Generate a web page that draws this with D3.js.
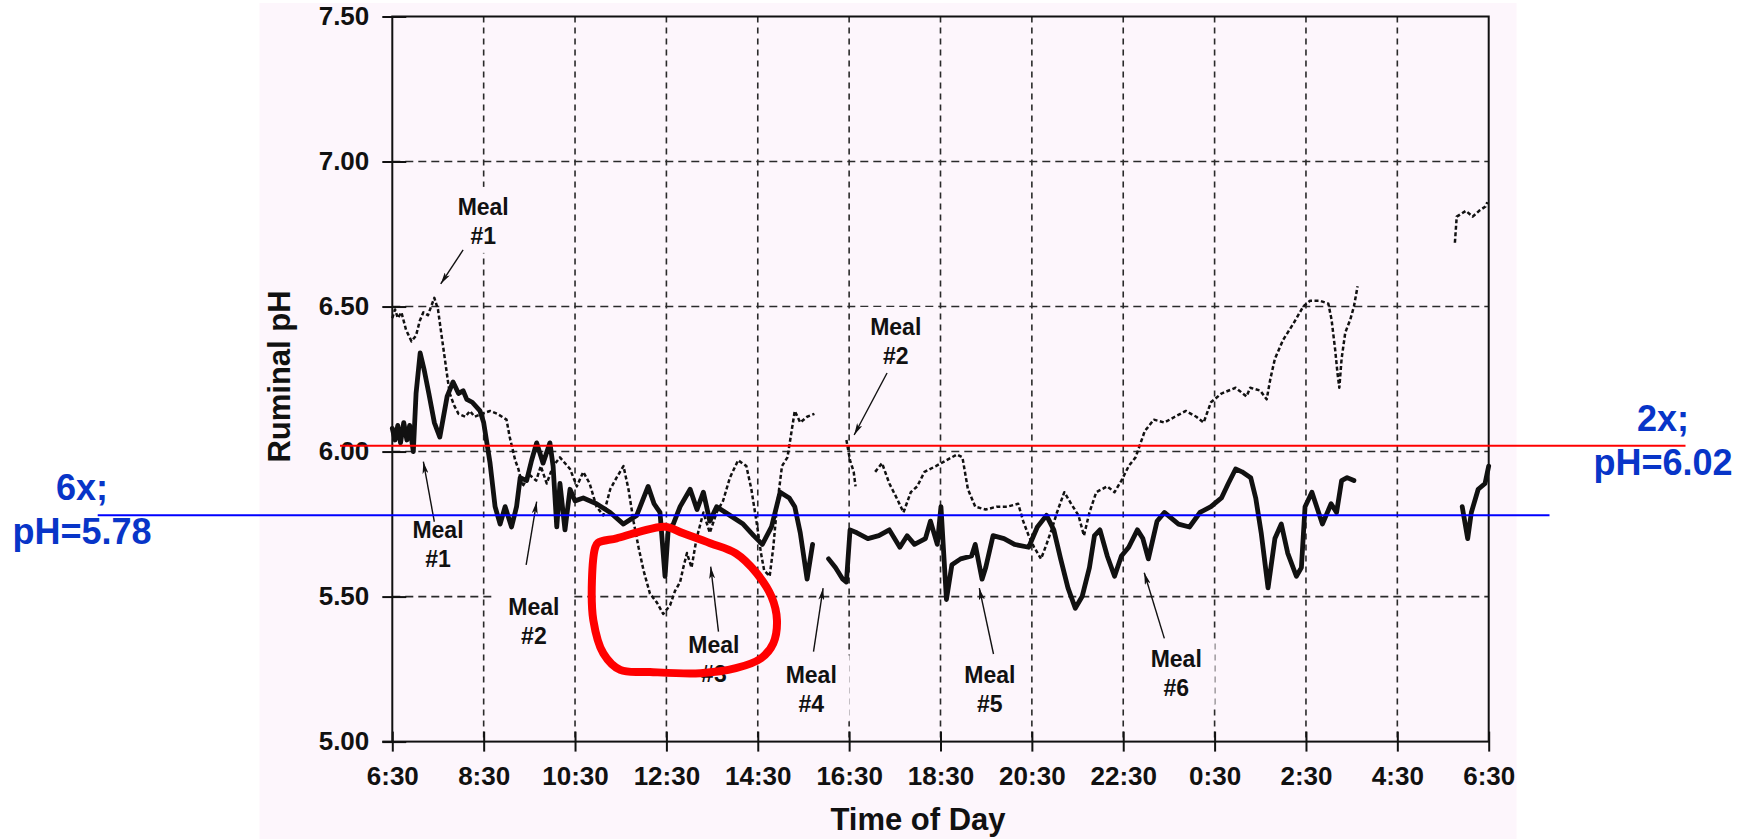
<!DOCTYPE html>
<html>
<head>
<meta charset="utf-8">
<script src="https://cdn.jsdelivr.net/npm/d3@7/dist/d3.min.js"></script>
<style>
  html, body { margin: 0; padding: 0; background: #ffffff; }
  svg { display: block; font-family: "Liberation Sans", Arial, Helvetica, sans-serif; }
</style>
</head>
<body>
<svg id="chart" width="1748" height="839"></svg>
<script>
// Time axis: hour of day, continuing past midnight (24 = 0:00 next day)
const xTickHours  = [6.5, 8.5, 10.5, 12.5, 14.5, 16.5, 18.5, 20.5, 22.5, 24.5, 26.5, 28.5, 30.5];
const xTickLabels = ["6:30", "8:30", "10:30", "12:30", "14:30", "16:30", "18:30", "20:30", "22:30", "0:30", "2:30", "4:30", "6:30"];
const yTicks      = [5.0, 5.5, 6.0, 6.5, 7.0, 7.5];
const yTickLabels = ["5.00", "5.50", "6.00", "6.50", "7.00", "7.50"];

// Six meals per day (heavy solid trace); null marks a gap in the recording
const sixMealHours = [6.50, 6.56, 6.62, 6.68, 6.75, 6.82, 6.88, 6.96, 7.02, 7.11, 7.20, 7.30, 7.42, 7.54, 7.62, 7.70, 7.83, 7.95, 8.05, 8.13, 8.25, 8.42, 8.50, 8.64, 8.75, 8.86, 8.97, 9.11, 9.22, 9.30, 9.44, 9.55, 9.66, 9.80, 9.95, 10.02, 10.10, 10.17, 10.28, 10.39, 10.50, 10.68, 10.97, 11.27, 11.56, 11.85, 12.10, 12.23, 12.36, 12.47, 12.54, 12.65, 12.80, 13.02, 13.17, 13.31, 13.45, 13.60, 13.89, 14.18, 14.41, 14.60, 14.80, 14.99, 15.19, 15.31, 15.43, 15.58, 15.70, 15.88, 16.05, 16.20, 16.36, 16.44, 16.52, 16.67, 16.91, 17.15, 17.38, 17.61, 17.77, 17.93, 18.17, 18.28, 18.43, 18.51, 18.63, 18.75, 18.94, 19.18, 19.26, 19.41, 19.49, 19.65, 19.89, 20.12, 20.43, 20.62, 20.82, 20.98, 21.13, 21.29, 21.45, 21.60, 21.76, 21.87, 21.99, 22.15, 22.31, 22.46, 22.62, 22.81, 22.93, 23.05, 23.24, 23.40, 23.71, 23.95, 24.18, 24.42, 24.65, 24.80, 24.96, 25.10, 25.29, 25.40, 25.52, 25.67, 25.82, 25.96, 26.10, 26.29, 26.40, 26.48, 26.63, 26.86, 27.05, 27.17, 27.28, 27.40, 27.55, 28.70, 29.92, 30.04, 30.12, 30.27, 30.42, 30.50];
const sixMealPH    = [6.08, 6.04, 6.09, 6.03, 6.10, 6.04, 6.09, 6.00, 6.20, 6.34, 6.28, 6.20, 6.10, 6.05, 6.12, 6.19, 6.24, 6.20, 6.21, 6.18, 6.17, 6.14, 6.10, 5.96, 5.81, 5.75, 5.81, 5.74, 5.81, 5.91, 5.90, 5.97, 6.03, 5.96, 6.03, 5.95, 5.74, 5.89, 5.73, 5.87, 5.83, 5.84, 5.82, 5.79, 5.75, 5.78, 5.88, 5.82, 5.79, 5.57, 5.73, 5.75, 5.81, 5.87, 5.80, 5.86, 5.76, 5.81, 5.78, 5.75, 5.71, 5.68, 5.74, 5.86, 5.84, 5.81, 5.72, 5.56, 5.68, null, 5.63, 5.60, 5.56, 5.55, 5.73, 5.72, 5.70, 5.71, 5.73, 5.67, 5.71, 5.68, 5.70, 5.76, 5.68, 5.81, 5.49, 5.61, 5.63, 5.64, 5.68, 5.56, 5.60, 5.71, 5.70, 5.68, 5.67, 5.74, 5.78, 5.73, 5.63, 5.53, 5.46, 5.50, 5.60, 5.71, 5.73, 5.64, 5.57, 5.64, 5.67, 5.73, 5.70, 5.63, 5.76, 5.79, 5.75, 5.74, 5.79, 5.81, 5.84, 5.89, 5.94, 5.93, 5.91, 5.84, 5.72, 5.53, 5.70, 5.75, 5.65, 5.57, 5.60, 5.81, 5.86, 5.75, 5.82, 5.79, 5.90, 5.91, 5.90, null, 5.81, 5.70, 5.79, 5.87, 5.89, 5.95];

// Two meals per day (thin broken trace)
const twoMealHours = [6.50, 6.56, 6.62, 6.70, 6.80, 6.92, 7.02, 7.10, 7.18, 7.28, 7.42, 7.50, 7.57, 7.65, 7.72, 7.76, 7.85, 7.95, 8.10, 8.20, 8.30, 8.45, 8.64, 8.80, 9.00, 9.07, 9.19, 9.26, 9.35, 9.50, 9.65, 9.75, 9.88, 10.02, 10.17, 10.39, 10.54, 10.68, 10.82, 10.97, 11.12, 11.27, 11.41, 11.56, 11.67, 11.78, 11.89, 12.00, 12.14, 12.29, 12.43, 12.58, 12.69, 12.80, 12.87, 12.95, 13.05, 13.16, 13.31, 13.45, 13.60, 13.74, 13.89, 14.07, 14.25, 14.36, 14.49, 14.57, 14.64, 14.76, 14.84, 14.92, 15.03, 15.15, 15.23, 15.31, 15.43, 15.58, 15.74, 16.10, 16.44, 16.52, 16.60, 16.64, 16.85, 17.07, 17.22, 17.38, 17.54, 17.69, 17.85, 17.99, 18.15, 18.40, 18.63, 18.86, 18.98, 19.10, 19.26, 19.49, 19.73, 19.96, 20.20, 20.31, 20.43, 20.55, 20.70, 20.82, 20.93, 21.05, 21.21, 21.36, 21.52, 21.64, 21.76, 21.91, 22.15, 22.31, 22.46, 22.62, 22.77, 22.97, 23.17, 23.40, 23.63, 23.87, 24.10, 24.26, 24.42, 24.65, 24.96, 25.20, 25.28, 25.50, 25.64, 25.72, 25.82, 26.00, 26.22, 26.44, 26.59, 26.80, 26.99, 27.06, 27.14, 27.19, 27.23, 27.28, 27.36, 27.47, 27.55, 27.63, 28.70, 29.76, 29.80, 30.00, 30.15, 30.29, 30.43, 30.47];
const twoMealPH    = [6.46, 6.49, 6.46, 6.48, 6.42, 6.38, 6.40, 6.45, 6.48, 6.47, 6.53, 6.49, 6.41, 6.32, 6.24, 6.20, 6.16, 6.13, 6.12, 6.14, 6.12, 6.13, 6.14, 6.13, 6.11, 6.05, 5.97, 5.94, 5.88, 5.92, 5.90, 5.95, 5.89, 5.95, 5.98, 5.94, 5.88, 5.93, 5.89, 5.81, 5.78, 5.87, 5.91, 5.95, 5.87, 5.76, 5.67, 5.59, 5.51, 5.48, 5.44, 5.47, 5.52, 5.55, 5.60, 5.65, 5.60, 5.70, 5.79, 5.72, 5.79, 5.83, 5.91, 5.97, 5.95, 5.87, 5.74, 5.65, 5.59, 5.57, 5.67, 5.81, 5.95, 5.98, 6.06, 6.14, 6.10, 6.12, 6.13, null, 6.04, 5.97, 5.93, 5.88, null, 5.93, 5.96, 5.89, 5.84, 5.79, 5.86, 5.88, 5.93, 5.95, 5.97, 5.99, 5.98, 5.87, 5.81, 5.80, 5.81, 5.81, 5.82, 5.76, 5.71, 5.67, 5.63, 5.68, 5.73, 5.79, 5.86, 5.82, 5.78, 5.71, 5.79, 5.86, 5.88, 5.86, 5.90, 5.95, 5.98, 6.07, 6.11, 6.10, 6.12, 6.14, 6.12, 6.10, 6.17, 6.20, 6.22, 6.19, 6.22, 6.21, 6.18, 6.25, 6.32, 6.385, 6.44, 6.50, 6.52, 6.52, 6.51, 6.455, 6.35, 6.27, 6.22, 6.32, 6.41, 6.455, 6.50, 6.57, null, 6.72, 6.81, 6.83, 6.81, 6.83, 6.845, 6.86];

// Reference pH levels for each feeding frequency
const refLabels = ["6x;", "2x;"];
const refValues = ["pH=5.78", "pH=6.02"];
const refPH     = [5.78, 6.02];

// Meal callouts: label anchor (hour, pH of first text line), arrow tail and head
const mealNames   = ["Meal", "Meal", "Meal", "Meal", "Meal", "Meal", "Meal", "Meal"];
const mealNumbers = ["#1", "#2", "#1", "#2", "#3", "#4", "#5", "#6"];
const mealLabelHour = [8.49, 17.52, 7.50, 9.60, 13.54, 15.67, 19.58, 23.66];
const mealLabelPH   = [6.816, 6.402, 5.701, 5.437, 5.305, 5.201, 5.201, 5.258];
const arrowTailHour = [8.05, 17.33, 7.42, 9.43, 13.64, 15.72, 19.66, 23.40];
const arrowTailPH   = [6.695, 6.271, 5.758, 5.609, 5.379, 5.310, 5.302, 5.356];
const arrowHeadHour = [7.56, 16.61, 7.18, 9.66, 13.47, 15.93, 19.35, 22.96];
const arrowHeadPH   = [6.578, 6.057, 5.965, 5.827, 5.603, 5.529, 5.529, 5.582];

// Hand-drawn ring around the midday pH dip
const ringHours = [11.00, 11.41, 11.92, 12.47, 12.87, 13.46, 14.02, 14.48, 14.80, 14.92, 14.84, 14.57, 14.02, 13.24, 12.14, 11.49, 11.12, 10.90, 10.87, 10.94];
const ringPH    = [5.685, 5.701, 5.724, 5.741, 5.718, 5.684, 5.649, 5.580, 5.500, 5.419, 5.339, 5.287, 5.253, 5.236, 5.240, 5.247, 5.304, 5.419, 5.557, 5.668];

const svg = d3.select("#chart");
const W = 1748, H = 839;
const plot = { left: 392.3, right: 1488.7, top: 16.5, bottom: 741.6 };

const x = d3.scaleLinear().domain([6.5, 30.5]).range([plot.left, plot.right]);
const y = d3.scaleLinear().domain([5.0, 7.5]).range([plot.bottom, plot.top]);

const ink = "#111111";
const panelFill = "#fdf6fc";

svg.append("rect").attr("width", W).attr("height", H).attr("fill", "#ffffff");
svg.append("rect").attr("x", 259.5).attr("y", 3).attr("width", 1257).attr("height", 836).attr("fill", panelFill);

// Dashed grid
const grid = svg.append("g").attr("stroke", "#2a2a2a").attr("stroke-width", 1.6).attr("fill", "none");
grid.selectAll("line.h").data(yTicks.filter(v => v > 5 && v < 7.5)).join("line")
  .attr("class", "h")
  .attr("x1", plot.left).attr("x2", plot.right)
  .attr("y1", d => y(d)).attr("y2", d => y(d))
  .attr("stroke-dasharray", "8,5");
grid.selectAll("line.v").data(xTickHours.slice(1, -1)).join("line")
  .attr("class", "v")
  .attr("x1", d => x(d)).attr("x2", d => x(d))
  .attr("y1", plot.top).attr("y2", plot.bottom)
  .attr("stroke-dasharray", "6,5");

// Label backings that interrupt the grid
const meals = mealNames.map((m, i) => ({
  name: m, num: mealNumbers[i],
  lx: x(mealLabelHour[i]), ly: y(mealLabelPH[i]),
  tx: x(arrowTailHour[i]), ty: y(arrowTailPH[i]),
  hx: x(arrowHeadHour[i]), hy: y(arrowHeadPH[i])
}));
svg.append("g").selectAll("rect").data(meals).join("rect")
  .attr("x", d => d.lx - 38.5).attr("width", 77)
  .attr("y", d => d.ly - 28).attr("height", 66)
  .attr("fill", panelFill);

// Frame
svg.append("rect")
  .attr("x", plot.left).attr("y", plot.top)
  .attr("width", plot.right - plot.left).attr("height", plot.bottom - plot.top)
  .attr("fill", "none").attr("stroke", ink).attr("stroke-width", 2);

// Axes (ticks cross the frame)
const yAxis = d3.axisLeft(y).tickValues(yTicks).tickFormat((d, i) => yTickLabels[i])
  .tickSizeInner(10).tickSizeOuter(0).tickPadding(13);
const yg = svg.append("g").attr("transform", `translate(${plot.left},0)`).call(yAxis);
yg.select(".domain").remove();
yg.selectAll(".tick line").attr("x2", 14).attr("x1", -10).attr("stroke", ink).attr("stroke-width", 2);
yg.selectAll(".tick text").attr("font-size", 26).attr("font-weight", "bold").attr("fill", ink);

const xAxis = d3.axisBottom(x).tickValues(xTickHours).tickFormat((d, i) => xTickLabels[i])
  .tickSizeInner(10).tickSizeOuter(0).tickPadding(15);
const xg = svg.append("g").attr("transform", `translate(0,${plot.bottom})`).call(xAxis);
xg.select(".domain").remove();
xg.selectAll(".tick line").attr("y1", -10).attr("y2", 10).attr("stroke", ink).attr("stroke-width", 2);
xg.selectAll(".tick text").attr("font-size", 26).attr("font-weight", "bold").attr("fill", ink);
// bottom axis runs slightly past the left frame
svg.append("line").attr("x1", plot.left - 10).attr("x2", plot.left)
  .attr("y1", plot.bottom).attr("y2", plot.bottom).attr("stroke", ink).attr("stroke-width", 2);

// Axis titles
svg.append("text")
  .attr("transform", `translate(290,376.5) rotate(-90)`)
  .attr("text-anchor", "middle").attr("font-size", 31).attr("font-weight", "bold").attr("fill", ink)
  .text("Ruminal pH");
svg.append("text")
  .attr("x", 918).attr("y", 830)
  .attr("text-anchor", "middle").attr("font-size", 31).attr("font-weight", "bold").attr("fill", ink)
  .text("Time of Day");

// Traces
const line = d3.line()
  .defined(d => d[1] !== null)
  .x(d => x(d[0])).y(d => y(d[1]));

const twoMeal = twoMealHours.map((h, i) => [h, twoMealPH[i]]);
const sixMeal = sixMealHours.map((h, i) => [h, sixMealPH[i]]);

svg.append("path").datum(twoMeal)
  .attr("d", line)
  .attr("fill", "none").attr("stroke", ink).attr("stroke-width", 2.5)
  .attr("stroke-dasharray", "4,2.5").attr("stroke-linejoin", "round");

svg.append("path").datum(sixMeal)
  .attr("d", line)
  .attr("fill", "none").attr("stroke", ink).attr("stroke-width", 4.8)
  .attr("stroke-linejoin", "round").attr("stroke-linecap", "round");

// Meal callouts
const defs = svg.append("defs");
defs.append("marker")
  .attr("id", "arrowhead").attr("viewBox", "0 0 12 6")
  .attr("refX", 12).attr("refY", 3)
  .attr("markerWidth", 12).attr("markerHeight", 6)
  .attr("markerUnits", "userSpaceOnUse")
  .attr("orient", "auto")
  .append("path").attr("d", "M0,0 L12,3 L0,6 L3,3 Z").attr("fill", ink);

const callouts = svg.append("g");
callouts.selectAll("line").data(meals).join("line")
  .attr("x1", d => d.tx).attr("y1", d => d.ty)
  .attr("x2", d => d.hx).attr("y2", d => d.hy)
  .attr("stroke", ink).attr("stroke-width", 1.4)
  .attr("marker-end", "url(#arrowhead)");
const labels = callouts.selectAll("text").data(meals).join("text")
  .attr("text-anchor", "middle").attr("font-size", 23).attr("font-weight", "bold").attr("fill", ink);
labels.append("tspan").attr("x", d => d.lx).attr("y", d => d.ly).text(d => d.name);
labels.append("tspan").attr("x", d => d.lx).attr("y", d => d.ly + 29).text(d => d.num);

// Reference levels
const blue = "#0000ff", red = "#ff0000", labelBlue = "#0835c8";
svg.append("line")
  .attr("x1", 97.7).attr("x2", 1549.5)
  .attr("y1", y(refPH[0])).attr("y2", y(refPH[0]))
  .attr("stroke", blue).attr("stroke-width", 2);
svg.append("line")
  .attr("x1", 340).attr("x2", 1685.5)
  .attr("y1", y(refPH[1])).attr("y2", y(refPH[1]))
  .attr("stroke", red).attr("stroke-width", 2);

const refText = svg.append("g").attr("text-anchor", "middle")
  .attr("font-size", 36).attr("font-weight", "bold").attr("fill", labelBlue);
const refX = [82, 1663];
refPH.forEach((v, i) => {
  refText.append("text").attr("x", refX[i]).attr("y", y(v) - 15).text(refLabels[i]);
  refText.append("text").attr("x", refX[i]).attr("y", y(v) + 29).text(refValues[i]);
});

// Ring around the midday dip
svg.append("path")
  .datum(ringHours.map((h, i) => [h, ringPH[i]]))
  .attr("d", d3.line().x(d => x(d[0])).y(d => y(d[1])).curve(d3.curveCatmullRomClosed))
  .attr("fill", "none").attr("stroke", red).attr("stroke-width", 8).attr("stroke-linejoin", "round");
</script>
</body>
</html>
